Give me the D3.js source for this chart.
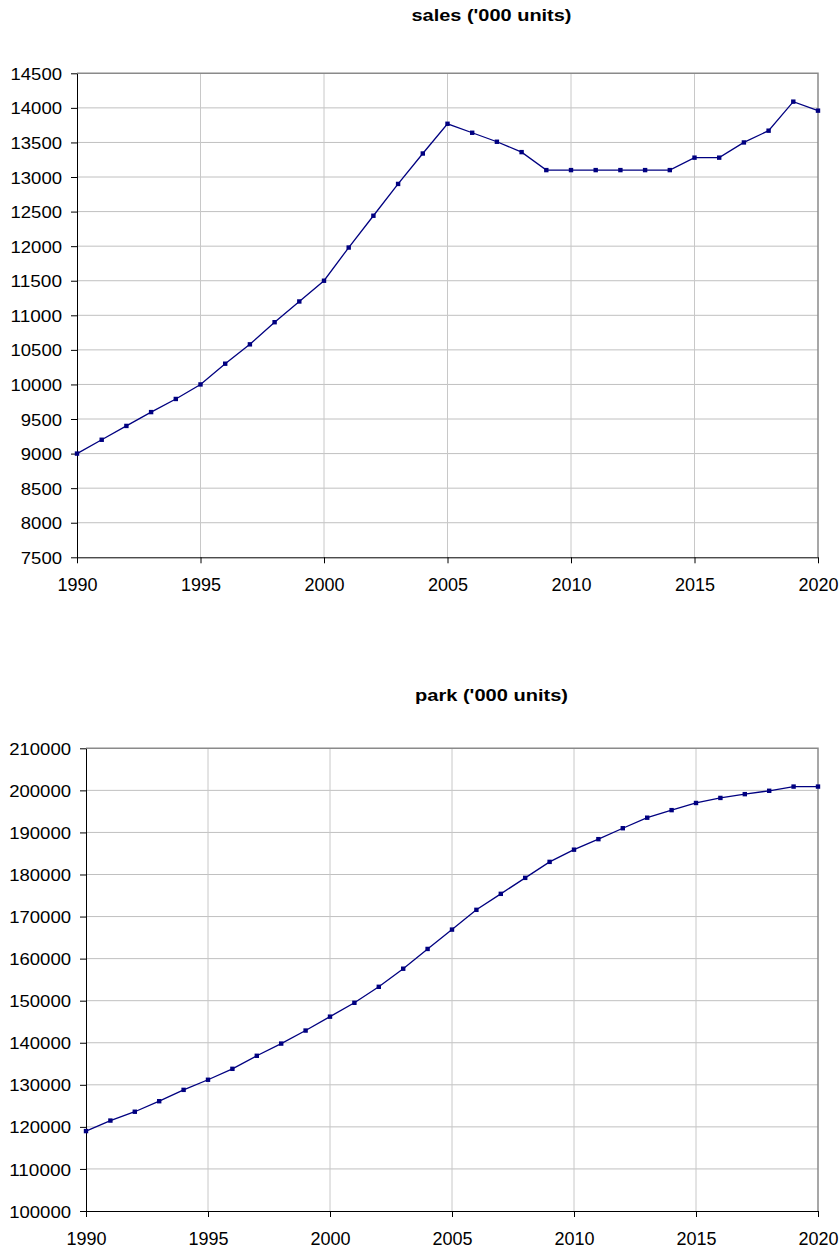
<!DOCTYPE html>
<html>
<head>
<meta charset="utf-8">
<script src="https://cdn.jsdelivr.net/npm/d3@7"></script>
<style>
  html, body { margin: 0; padding: 0; background: #fff; }
  svg { display: block; font-family: "Liberation Sans", Arial, sans-serif; }
</style>
</head>
<body>
<svg id="chart" width="839" height="1251"></svg>
<script>
// ---- data ----
const years = [1990,1991,1992,1993,1994,1995,1996,1997,1998,1999,2000,2001,2002,2003,2004,2005,2006,2007,2008,2009,2010,2011,2012,2013,2014,2015,2016,2017,2018,2019,2020];
const sales = [9000,9200,9400,9600,9790,10000,10300,10580,10900,11200,11500,11980,12440,12900,13340,13770,13640,13510,13360,13100,13100,13100,13100,13100,13100,13280,13280,13500,13670,14090,13960];
const park = [119000,121500,123600,126100,128800,131200,133800,136900,139800,142900,146200,149500,153300,157600,162300,166900,171600,175400,179200,183000,185900,188400,191000,193500,195300,197000,198200,199100,199900,200900,200900];
const yearTicks = [1990,1995,2000,2005,2010,2015,2020];
const salesTicks = [7500,8000,8500,9000,9500,10000,10500,11000,11500,12000,12500,13000,13500,14000,14500];
const parkTicks = [100000,110000,120000,130000,140000,150000,160000,170000,180000,190000,200000,210000];
const salesTitle = "sales ('000 units)";
const parkTitle = "park ('000 units)";

const svg = d3.select("#chart");

function drawChart(cfg) {
  const { values, yTicks, title, left, right, top, bottom, titleY, titleW } = cfg;
  const x = d3.scaleLinear().domain([1990, 2020]).range([left, right]);
  const y = d3.scaleLinear().domain([yTicks[0], yTicks[yTicks.length - 1]]).range([bottom, top]);
  const g = svg.append("g");

  // title
  g.append("text")
    .attr("x", 491.5).attr("y", titleY)
    .attr("text-anchor", "middle")
    .attr("font-weight", "bold")
    .attr("font-size", 17)
    .attr("textLength", titleW)
    .attr("lengthAdjust", "spacingAndGlyphs")
    .attr("fill", "#000")
    .text(title);

  // grid lines
  g.append("g").selectAll("line.h").data(yTicks.slice(1, -1)).join("line")
    .attr("x1", left).attr("x2", right)
    .attr("y1", d => y(d)).attr("y2", d => y(d))
    .attr("stroke", "#c0c0c0").attr("stroke-width", 1);
  g.append("g").selectAll("line.v").data(yearTicks.slice(1, -1)).join("line")
    .attr("x1", d => x(d)).attr("x2", d => x(d))
    .attr("y1", top).attr("y2", bottom)
    .attr("stroke", "#c8c8c8").attr("stroke-width", 1);

  // plot border (top & right)
  g.append("path")
    .attr("d", `M${left},${y.range()[1]}H${right}V${bottom}`)
    .attr("fill", "none").attr("stroke", "#8a8a8a").attr("stroke-width", 1.5);

  // y axis
  const ya = g.append("g").attr("transform", `translate(${left},0)`)
    .call(d3.axisLeft(y).tickValues(yTicks).tickFormat(d3.format("d")).tickSize(6).tickSizeOuter(0).tickPadding(9));
  ya.select(".domain").attr("stroke", "#000");
  ya.selectAll(".tick line").attr("stroke", "#000");
  ya.selectAll(".tick text")
    .attr("font-size", 17).attr("fill", "#000")
    .attr("font-family", "Liberation Sans, Arial, sans-serif")
    .attr("dy", "0.36em")
    .attr("textLength", d => String(d).length * 10.3)
    .attr("lengthAdjust", "spacingAndGlyphs");

  // x axis
  const xa = g.append("g").attr("transform", `translate(0,${bottom})`)
    .call(d3.axisBottom(x).tickValues(yearTicks).tickFormat(d3.format("d")).tickSize(6).tickSizeOuter(0));
  xa.select(".domain").attr("stroke", "#000");
  xa.selectAll(".tick line").attr("stroke", "#000");
  xa.selectAll(".tick text")
    .attr("font-size", 18).attr("fill", "#000")
    .attr("font-family", "Liberation Sans, Arial, sans-serif")
    .attr("y", 34).attr("dy", 0);

  // series line
  const line = d3.line().x((d, i) => x(years[i])).y(d => y(d));
  g.append("path").datum(values)
    .attr("d", line)
    .attr("fill", "none").attr("stroke", "#000080").attr("stroke-width", 1.3);

  // markers
  g.append("g").selectAll("rect").data(values).join("rect")
    .attr("x", (d, i) => x(years[i]) - 2.2)
    .attr("y", d => y(d) - 2.2)
    .attr("width", 4.4).attr("height", 4.4)
    .attr("fill", "#000080");
}

drawChart({ values: sales, yTicks: salesTicks, title: salesTitle,
  left: 77, right: 818, top: 73.3, bottom: 557.3, titleY: 21, titleW: 160 });
drawChart({ values: park, yTicks: parkTicks, title: parkTitle,
  left: 86, right: 818, top: 748.3, bottom: 1211, titleY: 701, titleW: 153 });
</script>
</body>
</html>
